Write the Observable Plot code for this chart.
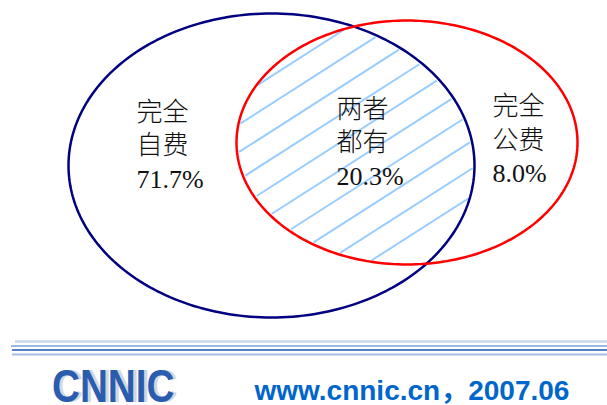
<!DOCTYPE html>
<html><head><meta charset="utf-8">
<script src="https://cdn.jsdelivr.net/npm/d3@7"></script>
<script src="https://cdn.jsdelivr.net/npm/@observablehq/plot@0.6"></script>
<style>
html,body{margin:0;padding:0;background:#fff;}
#chart{position:relative;width:607px;height:405px;overflow:hidden}
.logo{position:absolute;top:368px;left:52px;display:inline-block;font-family:'Liberation Sans',sans-serif;font-size:46px;line-height:36px;height:36px;
  font-weight:bold;color:#2a5cb0;text-shadow:4px 0 0 #d4d7dd;transform:scaleX(0.84);transform-origin:0 0;white-space:nowrap;}
</style>
</head><body><div id="chart"></div>
<script>
// ---- data ----
const regionNames = ["完全自费", "两者都有", "完全公费"];
const regionShares = [71.7, 20.3, 8.0];
const setNames = ["完全自费", "完全公费"];
const logoText = "CNNIC";
const siteText = "www.cnnic.cn";
const dateText = "2007.06";

// ---- layout ----
const W = 607, H = 405;
const ellipseGeom = [
  {cx: 271, cy: 165, rx: 203, ry: 152, stroke: "#000080"},
  {cx: 406.5, cy: 142, rx: 170.5, ry: 122, stroke: "#ff0000"}
];
const labelPos = [[136, 143], [336, 140], [492, 137.5]];

const ellipses = setNames.map((name, i) => ({name, ...ellipseGeom[i]}));
const outline = [];
for (const e of ellipses) {
  for (let k = 0; k < 240; k++) {
    const a = (k / 240) * 2 * Math.PI;
    outline.push({name: e.name, x: e.cx + e.rx * Math.cos(a), y: e.cy + e.ry * Math.sin(a)});
  }
}

// hatch of the overlap: lines y = c - m x clipped to both ellipses
const m = 0.64, c0 = 249, step = 27.6, nHatch = 10, inset = 2;
function span(e, c) {
  const d = c - e.cy;
  const A = 1 / e.rx ** 2 + m * m / e.ry ** 2;
  const B = -2 * e.cx / e.rx ** 2 - 2 * d * m / e.ry ** 2;
  const C = e.cx ** 2 / e.rx ** 2 + d * d / e.ry ** 2 - 1;
  const disc = B * B - 4 * A * C;
  if (disc <= 0) return null;
  const s = Math.sqrt(disc);
  return [(-B - s) / (2 * A), (-B + s) / (2 * A)];
}
const hatch = [];
for (let k = 0; k < nHatch; k++) {
  const c = c0 + k * step;
  const a = span(ellipses[0], c), b = span(ellipses[1], c);
  if (!a || !b) continue;
  const lo = Math.max(a[0], b[0]) + inset, hi = Math.min(a[1], b[1]) - inset;
  if (hi > lo) hatch.push({x1: lo, y1: c - m * lo, x2: hi, y2: c - m * hi});
}

const labels = regionNames.map((n, i) => ({
  text: n.slice(0, 2) + "\n" + n.slice(2) + "\n" + regionShares[i].toFixed(1) + "%",
  x: labelPos[i][0], y: labelPos[i][1]
}));

const chart = Plot.plot({
  width: W, height: H,
  margin: 0,
  x: {domain: [0, W], range: [0, W], axis: null},
  y: {domain: [0, H], range: [0, H], axis: null},
  marks: [
    Plot.link(hatch, {x1: "x1", y1: "y1", x2: "x2", y2: "y2", stroke: "#99ccff", strokeWidth: 2}),
    Plot.line(outline.filter(d => d.name === setNames[0]), {x: "x", y: "y", curve: "linear-closed", stroke: ellipses[0].stroke, strokeWidth: 2.5}),
    Plot.line(outline.filter(d => d.name === setNames[1]), {x: "x", y: "y", curve: "linear-closed", stroke: ellipses[1].stroke, strokeWidth: 2.5}),
    Plot.text(labels, {x: "x", y: "y", text: "text", textAnchor: "start", lineAnchor: "middle", lineHeight: 1.29,
      fontSize: 26, fontWeight: 300, fontFamily: "'Liberation Serif','Noto Sans CJK SC'", fill: "#111"}),
    // footer rules
    Plot.ruleY([341], {x1: 15, x2: W, stroke: "#c9d7ef", strokeWidth: 2.5}),
    Plot.ruleY([345.5], {x1: 11, x2: W, stroke: "#7c9fd8", strokeWidth: 1.5}),
    Plot.ruleY([349.5], {x1: 12, x2: W, stroke: "#5580c8", strokeWidth: 2}),
    Plot.ruleY([354], {x1: 12, x2: W, stroke: "#a5bde6", strokeWidth: 2}),
    Plot.text([siteText + "，" + dateText], {x: 254, y: 391, text: d => d, fontSize: 28, fontWeight: "bold",
      fontFamily: "'Liberation Sans','Noto Sans CJK SC'", fill: "#0066cc", textAnchor: "start", lineAnchor: "middle"})
  ]
});
const host = document.getElementById("chart");
host.appendChild(chart);
// logo lettering (condensed, with a light grey relief via text-shadow)
const logo = document.createElement("div");
logo.className = "logo"; logo.textContent = logoText;
host.appendChild(logo);
</script></body></html>
